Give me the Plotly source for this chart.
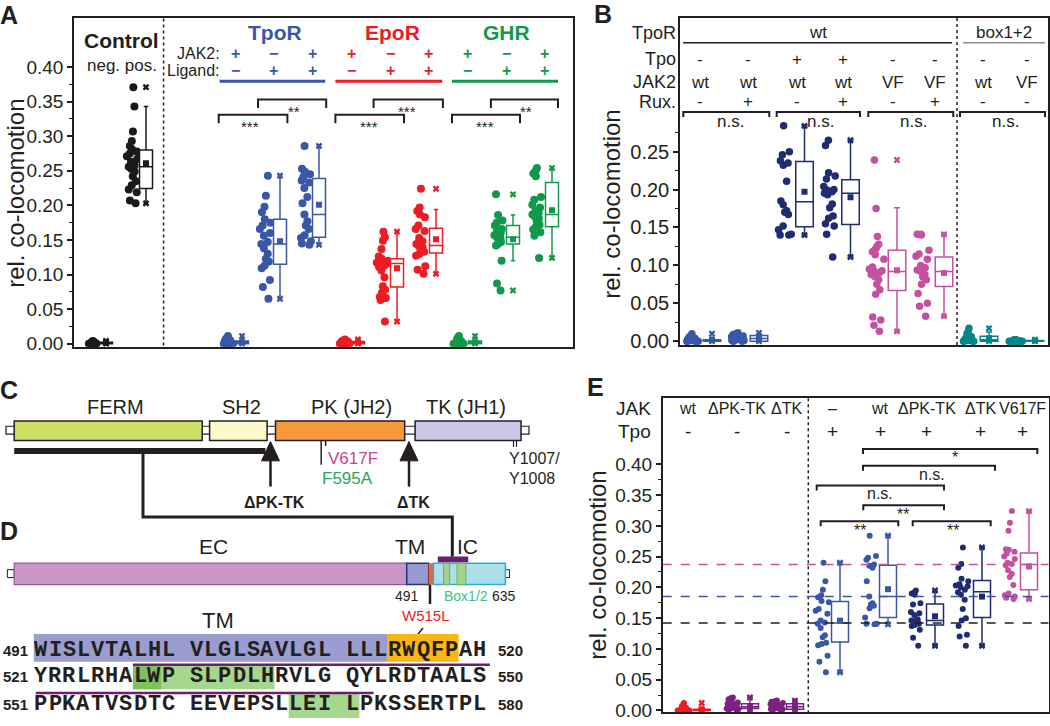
import numpy as np
import plotly.graph_objects as go

W, H = 1050, 726
SANS = "Liberation Sans, Arial, Helvetica, sans-serif"
NARROW = "Liberation Sans Narrow, Liberation Sans, Arial, sans-serif"
MONO = "Liberation Mono, DejaVu Sans Mono, monospace"
INK = "#231f20"

BLUE, NAVY, RED, GREEN = "#3a57a7", "#1f2b73", "#ec1c24", "#10994a"
MAGENTA, TEAL, PURPLE, BLACK = "#c4509f", "#00878a", "#7a2282", "#1a1a1a"

# ---------------- Panel A data ----------------
A_ctrl_neg = [0.000, 0.001, 0.000, 0.002, 0.001, 0.000, 0.003, 0.001, 0.000, 0.002,
              0.001, 0.000, 0.001, 0.002, 0.000, 0.001, 0.004, 0.000, 0.001, 0.002]
A_ctrl_pos = [0.371, 0.343, 0.307, 0.293, 0.286, 0.281, 0.278, 0.275, 0.271, 0.267, 0.263,
              0.258, 0.256, 0.253, 0.249, 0.242, 0.235, 0.229, 0.223, 0.219, 0.207, 0.203]
A_tpor_j = [0.000, 0.001, 0.002, 0.000, 0.003, 0.001, 0.004, 0.000, 0.002, 0.005,
            0.001, 0.003, 0.006, 0.002, 0.008, 0.011, 0.004, 0.001, 0.000, 0.007]
A_tpor_l = [0.243, 0.214, 0.198, 0.190, 0.180, 0.175, 0.171, 0.166, 0.160, 0.156, 0.147,
            0.144, 0.138, 0.130, 0.123, 0.119, 0.113, 0.109, 0.092, 0.082, 0.065]
A_tpor_jl = [0.286, 0.253, 0.249, 0.245, 0.241, 0.236, 0.233, 0.225, 0.212, 0.203,
             0.187, 0.177, 0.171, 0.166, 0.157, 0.153, 0.148, 0.145, 0.143]
A_epor_j = [0.000, 0.001, 0.000, 0.002, 0.003, 0.001, 0.000, 0.004, 0.002, 0.001,
            0.005, 0.000, 0.003, 0.006, 0.001, 0.002, 0.000, 0.004, 0.001, 0.003]
A_epor_l = [0.162, 0.154, 0.149, 0.137, 0.126, 0.123, 0.120, 0.118, 0.117, 0.116, 0.115,
            0.113, 0.111, 0.106, 0.096, 0.083, 0.078, 0.074, 0.068, 0.066, 0.063, 0.032]
A_epor_jl = [0.224, 0.197, 0.192, 0.187, 0.183, 0.171, 0.166, 0.163, 0.153, 0.148,
             0.144, 0.141, 0.139, 0.136, 0.133, 0.130, 0.127, 0.112, 0.107, 0.101]
A_ghr_j = [0.000, 0.001, 0.003, 0.000, 0.002, 0.005, 0.001, 0.000, 0.004, 0.002,
           0.007, 0.001, 0.003, 0.000, 0.009, 0.002, 0.011, 0.001, 0.004, 0.000]
A_ghr_l = [0.216, 0.186, 0.178, 0.175, 0.171, 0.166, 0.163, 0.160, 0.157, 0.154,
           0.152, 0.150, 0.147, 0.144, 0.142, 0.120, 0.087, 0.077]
A_ghr_jl = [0.254, 0.250, 0.246, 0.242, 0.212, 0.208, 0.201, 0.197, 0.192, 0.189,
            0.187, 0.184, 0.181, 0.177, 0.172, 0.169, 0.165, 0.161, 0.156, 0.124]
A_points = [A_ctrl_neg, A_ctrl_pos, A_tpor_j, A_tpor_l, A_tpor_jl, A_epor_j, A_epor_l,
            A_epor_jl, A_ghr_j, A_ghr_l, A_ghr_jl]
A_q1 = [0.000, 0.2245, 0.000, 0.115, 0.154, 0.000, 0.082, 0.131, 0.000, 0.144, 0.169]
A_med = [0.001, 0.256, 0.002, 0.144, 0.187, 0.001, 0.116, 0.142, 0.002, 0.154, 0.187]
A_q3 = [0.002, 0.280, 0.004, 0.180, 0.239, 0.003, 0.123, 0.167, 0.004, 0.171, 0.233]
A_lo = [0.000, 0.203, 0.000, 0.065, 0.143, 0.000, 0.032, 0.101, 0.000, 0.120, 0.124]
A_hi = [0.003, 0.343, 0.007, 0.243, 0.286, 0.005, 0.162, 0.194, 0.008, 0.186, 0.253]
A_mean = [0.001, 0.261, 0.002, 0.148, 0.201, 0.002, 0.109, 0.151, 0.002, 0.151, 0.193]
A_colors = [BLACK, BLACK, BLUE, BLUE, BLUE, RED, RED, RED, GREEN, GREEN, GREEN]
A_receptors = ["TpoR", "EpoR", "GHR"]
A_rec_colors = [BLUE, RED, GREEN]
A_jak2_signs = ["+", "\u2212", "+"]
A_lig_signs = ["\u2212", "+", "+"]
A_sig = ["**", "***", "***", "***", "**", "***"]

# ---------------- Panel B data ----------------
B_wt = [0.000, 0.001, 0.002, 0.000, 0.003, 0.001, 0.005, 0.002, 0.000, 0.004,
        0.001, 0.007, 0.002, 0.010, 0.003, 0.000, 0.001, 0.006, 0.002, 0.004]
B_wt_rux = [0.000, 0.002, 0.004, 0.001, 0.006, 0.003, 0.008, 0.005, 0.010, 0.002,
            0.007, 0.004, 0.000, 0.009, 0.003, 0.006, 0.001, 0.005, 0.011, 0.004]
B_tpo = [0.284, 0.250, 0.246, 0.238, 0.235, 0.232, 0.211, 0.185, 0.180, 0.172,
         0.170, 0.167, 0.152, 0.147, 0.141, 0.140, 0.140]
B_tpo_rux = [0.265, 0.258, 0.222, 0.218, 0.214, 0.204, 0.200, 0.199, 0.197, 0.195,
             0.193, 0.181, 0.176, 0.165, 0.162, 0.155, 0.152, 0.141, 0.111]
B_vf = [0.239, 0.175, 0.138, 0.128, 0.125, 0.122, 0.118, 0.114, 0.108, 0.098, 0.095, 0.093,
        0.092, 0.090, 0.088, 0.085, 0.081, 0.075, 0.068, 0.062, 0.032, 0.028, 0.021, 0.013]
B_vf_rux = [0.141, 0.141, 0.140, 0.120, 0.115, 0.112, 0.108, 0.100, 0.097, 0.094,
            0.092, 0.088, 0.085, 0.081, 0.075, 0.063, 0.050, 0.046, 0.033]
B_box_wt = [0.017, 0.012, 0.010, 0.008, 0.006, 0.005, 0.004, 0.003, 0.003, 0.002,
            0.002, 0.001, 0.001, 0.000, 0.000, 0.000, 0.001, 0.002, 0.004, 0.000]
B_box_vf = [0.000, 0.001, 0.000, 0.002, 0.000, 0.001, 0.000, 0.000, 0.001, 0.002,
            0.000, 0.001, 0.000, 0.000, 0.001, 0.000, 0.002, 0.001, 0.000, 0.000]
B_points = [B_wt, B_wt_rux, B_tpo, B_tpo_rux, B_vf, B_vf_rux, B_box_wt, B_box_vf]
B_q1 = [0.000, 0.000, 0.151, 0.154, 0.067, 0.072, 0.000, 0.000]
B_med = [0.001, 0.0035, 0.184, 0.195, 0.092, 0.092, 0.002, 0.0005]
B_q3 = [0.002, 0.0074, 0.237, 0.213, 0.120, 0.111, 0.0065, 0.001]
B_lo = [0.000, 0.000, 0.140, 0.111, 0.013, 0.033, 0.000, 0.000]
B_hi = [0.005, 0.010, 0.284, 0.265, 0.176, 0.141, 0.012, 0.002]
B_mean = [0.002, 0.004, 0.197, 0.190, 0.0935, 0.090, 0.004, 0.001]
B_colors = [BLUE, BLUE, NAVY, NAVY, MAGENTA, MAGENTA, TEAL, TEAL]
B_row_tpo = ["-", "-", "+", "+", "-", "-", "-", "-"]
B_row_jak2 = ["wt", "wt", "wt", "wt", "VF", "VF", "wt", "VF"]
B_row_rux = ["-", "+", "-", "+", "-", "+", "-", "-"]

# ---------------- Panel E data ----------------
E_wt_np = [0.000, 0.001, 0.003, 0.000, 0.002, 0.005, 0.001, 0.000, 0.004, 0.002,
           0.007, 0.001, 0.003, 0.000, 0.010, 0.002, 0.012, 0.001, 0.004, 0.000]
E_dpktk_np = [0.021, 0.020, 0.018, 0.015, 0.013, 0.011, 0.010, 0.009, 0.008, 0.007,
              0.006, 0.006, 0.005, 0.004, 0.003, 0.003, 0.002, 0.001, 0.000, 0.012]
E_dtk_np = [0.016, 0.015, 0.013, 0.012, 0.011, 0.010, 0.009, 0.008, 0.007, 0.006,
            0.005, 0.005, 0.004, 0.003, 0.002, 0.002, 0.001, 0.000, 0.009, 0.014]
E_none_tpo = [0.240, 0.210, 0.196, 0.187, 0.184, 0.178, 0.176, 0.165, 0.162, 0.157, 0.146,
              0.143, 0.141, 0.134, 0.122, 0.119, 0.110, 0.108, 0.106, 0.089, 0.079, 0.062]
E_wt_tpo = [0.284, 0.251, 0.248, 0.245, 0.237, 0.235, 0.232, 0.210, 0.185, 0.174,
            0.172, 0.170, 0.166, 0.151, 0.141, 0.140, 0.141]
E_dpktk_tpo = [0.195, 0.192, 0.190, 0.188, 0.174, 0.172, 0.160, 0.158, 0.155, 0.148,
               0.146, 0.145, 0.143, 0.142, 0.141, 0.139, 0.137, 0.131, 0.118, 0.105]
E_dtk_tpo = [0.265, 0.238, 0.232, 0.214, 0.210, 0.205, 0.203, 0.202, 0.200, 0.196,
             0.192, 0.188, 0.180, 0.165, 0.150, 0.146, 0.137, 0.123, 0.120, 0.105]
E_vf_tpo = [0.324, 0.305, 0.292, 0.262, 0.261, 0.258, 0.255, 0.250, 0.246, 0.240, 0.238,
            0.236, 0.228, 0.222, 0.217, 0.204, 0.190, 0.187, 0.185, 0.183, 0.181]
E_points = [E_wt_np, E_dpktk_np, E_dtk_np, E_none_tpo, E_wt_tpo, E_dpktk_tpo, E_dtk_tpo, E_vf_tpo]
E_q1 = [0.000, 0.003, 0.002, 0.111, 0.151, 0.139, 0.151, 0.196]
E_med = [0.001, 0.006, 0.006, 0.142, 0.185, 0.146, 0.193, 0.237]
E_q3 = [0.002, 0.011, 0.011, 0.177, 0.236, 0.173, 0.211, 0.256]
E_lo = [0.000, 0.000, 0.000, 0.062, 0.141, 0.105, 0.105, 0.181]
E_hi = [0.004, 0.021, 0.016, 0.240, 0.284, 0.194, 0.265, 0.324]
E_mean = [0.002, 0.007, 0.007, 0.146, 0.197, 0.153, 0.185, 0.234]
E_colors = [RED, PURPLE, PURPLE, BLUE, BLUE, NAVY, NAVY, MAGENTA]
E_row_jak = ["wt", "\u0394PK-TK", "\u0394TK", "\u2013", "wt", "\u0394PK-TK", "\u0394TK", "V617F"]
E_row_tpo = ["-", "-", "-", "+", "+", "+", "+", "+"]
E_ref_values = [0.237, 0.185, 0.142]
E_ref_colors = [MAGENTA, BLUE, INK]
E_sig = ["*", "n.s.", "n.s.", "**", "**", "**"]

# ---------------- Panel D sequence ----------------
SEQ_ROWS = ["WISLVTALHL VLGLSAVLGL LLLRWQFPAH",
            "YRRLRHALWP SLPDLHRVLG QYLRDTAALS",
            "PPKATVSDTC EEVEPSLLEI LPKSSERTPL"]
SEQ_START = [491, 521, 551]
SEQ_END = [520, 550, 580]

# ---------------- layout constants (pixel units) ----------------
A_pts_x = [93, 133, 228, 266, 306, 345, 383, 421, 459, 499, 537]
A_box_x = [106, 146, 242, 280, 319, 358, 397, 436, 475, 513, 552]
B_pts_x = [692, 738, 785, 830, 877, 923, 969, 1016]
B_box_x = [712, 759, 804.5, 850.5, 897, 944, 989, 1035]
B_hdr_x = [700, 748.3, 796.7, 843.3, 893.3, 935, 983.3, 1026.7]
E_pts_x = [684, 733, 777, 823, 871, 916, 963, 1010]
E_box_x = [701.7, 750, 795, 840, 888, 935, 982, 1029]
E_hdr_x = [688.3, 736.7, 786.7, 832.3, 880, 926.7, 980, 1022.5]

shapes, annotations = [], []


def X(x):
    return x / W


def Y(y):
    return 1 - y / H


def add_line(x0, y0, x1, y1, color=INK, width=2, dash="solid"):
    shapes.append(dict(type="line", xref="paper", yref="paper", x0=X(x0), y0=Y(y0),
                       x1=X(x1), y1=Y(y1), line=dict(color=color, width=width, dash=dash)))


def add_rect(x0, y0, x1, y1, fill, lc=INK, lw=1.5):
    shapes.append(dict(type="rect", xref="paper", yref="paper", x0=X(x0), y0=Y(y0),
                       x1=X(x1), y1=Y(y1), fillcolor=fill,
                       line=dict(color=lc, width=lw)))


def add_path(pts, fill="rgba(0,0,0,0)", color=INK, width=2, closed=False):
    d = "M " + " L ".join("%.5f,%.5f" % (X(a), Y(b)) for a, b in pts) + (" Z" if closed else "")
    shapes.append(dict(type="path", xref="paper", yref="paper", path=d, fillcolor=fill,
                       line=dict(color=color, width=width)))


def add_text(x, y, s, size=17, color=INK, bold=False, anchor="center", family=SANS, angle=0):
    annotations.append(dict(xref="paper", yref="paper", x=X(x), y=Y(y),
                            text=("<b>%s</b>" % s) if bold else s, showarrow=False,
                            xanchor=anchor, yanchor="middle", textangle=angle, borderpad=0,
                            font=dict(family=family, size=size, color=color)))


def bracket(x0, x1, y, leg, label, lx, ly, lsize=16):
    add_path([(x0, y + leg), (x0, y), (x1, y), (x1, y + leg)], width=2)
    add_text(lx, ly, label, size=lsize)


fig = go.Figure()


def add_groups(xa, ya, pts_list, pts_x, box_x, q1, med, q3, lo, hi, mean, colors,
               msize, pw, bw):
    for i, pts in enumerate(pts_list):
        c = colors[i]
        fig.add_trace(go.Box(y=pts, x0=pts_x[i], orientation="v", xaxis=xa, yaxis=ya,
                             boxpoints="all", jitter=1, pointpos=0, width=pw,
                             fillcolor="rgba(0,0,0,0)", line=dict(width=0, color="rgba(0,0,0,0)"),
                             marker=dict(color=c, size=msize, line=dict(width=0)),
                             hoverinfo="skip", showlegend=False))
    for i, pts in enumerate(pts_list):
        c = colors[i]
        fig.add_trace(go.Box(x=[box_x[i]], q1=[q1[i]], median=[med[i]], q3=[q3[i]],
                             lowerfence=[lo[i]], upperfence=[hi[i]], orientation="v",
                             xaxis=xa, yaxis=ya, width=bw, fillcolor="white",
                             line=dict(color=c, width=1.5), whiskerwidth=0.35,
                             boxpoints=False, hoverinfo="skip", showlegend=False))
        fig.add_trace(go.Scatter(x=[box_x[i]], y=[mean[i]], mode="markers", xaxis=xa, yaxis=ya,
                                 marker=dict(symbol="square", size=6, color=c),
                                 hoverinfo="skip", showlegend=False))
        arr = np.array(pts)
        fig.add_trace(go.Scatter(x=[box_x[i], box_x[i]], y=[arr.min(), arr.max()],
                                 mode="markers", xaxis=xa, yaxis=ya,
                                 marker=dict(symbol="x", size=6, color=c),
                                 hoverinfo="skip", showlegend=False))


add_groups("x", "y", A_points, A_pts_x, A_box_x, A_q1, A_med, A_q3, A_lo, A_hi, A_mean,
           A_colors, 8, 13, 13)
add_groups("x2", "y2", B_points, B_pts_x, B_box_x, B_q1, B_med, B_q3, B_lo, B_hi, B_mean,
           B_colors, 7.5, 16, 17.5)
add_groups("x3", "y3", E_points, E_pts_x, E_box_x, E_q1, E_med, E_q3, E_lo, E_hi, E_mean,
           E_colors, 6, 15, 17)


def yax(top, bottom, rng, major, minor, fsize, anchor):
    return dict(domain=[Y(bottom), Y(top)], range=rng, anchor=anchor, tickmode="array",
                tickvals=major, ticktext=["%.2f" % v for v in major], ticks="outside",
                ticklen=5, tickwidth=1.5, tickcolor=INK, showline=True, mirror=True,
                linecolor=INK, linewidth=1.5, showgrid=False, zeroline=False,
                tickfont=dict(family=SANS, size=fsize, color=INK), fixedrange=True,
                minor=dict(tickmode="array", tickvals=minor, ticks="outside", ticklen=3,
                           tickwidth=1.2, tickcolor=INK, showgrid=False))


def xax(left, right, anchor):
    return dict(domain=[X(left), X(right)], range=[left, right], anchor=anchor,
                showticklabels=False, ticks="", showline=True, mirror=True, linecolor=INK,
                linewidth=1.5, showgrid=False, zeroline=False, fixedrange=True)


A_major = [round(0.05 * k, 2) for k in range(9)]
A_minor = [round(0.025 + 0.05 * k, 3) for k in range(8)]
B_major = [round(0.05 * k, 2) for k in range(6)]
B_minor = [round(0.025 + 0.05 * k, 3) for k in range(6)]
E_major = A_major
E_minor = A_minor

# ---------- Panel A annotations ----------
add_text(9, 15, "A", size=25, bold=True, family=NARROW)
add_text(16, 196, "rel. co-locomotion", size=24, angle=-90)
add_line(163.6, 18.6, 163.6, 350.5, color=INK, width=1.5, dash="dot")
add_text(121.5, 41, "Control", size=21, bold=True)
add_text(121.5, 66, "neg. pos.", size=17)
add_text(221.4, 54, "JAK2:", size=16, anchor="right")
add_text(221.4, 71, "Ligand:", size=16, anchor="right")
A_title_x = [274.5, 392, 506]
A_under = [(219.7, 325.2), (335.4, 442.2), (452, 558)]
for r in range(3):
    col = A_rec_colors[r]
    add_text(A_title_x[r], 32.5, A_receptors[r], size=21, bold=True, color=col)
    for k in range(3):
        g = 2 + 3 * r + k
        cx_ = (A_pts_x[g] + A_box_x[g]) / 2
        add_text(cx_, 54, A_jak2_signs[k], size=16, bold=True, color=col)
        add_text(cx_, 71.5, A_lig_signs[k], size=16, bold=True, color=col)
    add_line(A_under[r][0], 82.2, A_under[r][1], 82.2, color=col, width=3)
A_br = [(258, 326.2, 100.7, 294), (218.7, 287.4, 116, 250), (373.6, 442.9, 100.7, 407.4),
        (335.4, 404, 116, 368.5), (490.9, 558, 100.7, 526), (452, 520, 116, 485)]
for (x0, x1, yb, lx), s in zip(A_br, A_sig):
    bracket(x0, x1, yb, 8.5, s, lx, yb + 12, lsize=15)

# ---------- Panel B annotations ----------
add_text(602.5, 14, "B", size=25, bold=True, family=NARROW)
add_text(612, 207, "rel. co-locomotion", size=24, angle=-90)
add_line(957, 18.3, 957, 349, color=INK, width=1.5, dash="dot")
add_text(677, 33.3, "TpoR", size=18, anchor="right")
add_text(677, 60, "Tpo", size=18, anchor="right")
add_text(677, 83.3, "JAK2", size=18, anchor="right")
add_text(677, 102.7, "Rux.", size=18, anchor="right")
add_text(817.5, 33.3, "wt", size=17)
add_line(683, 43.3, 952, 43.3, width=1.5)
add_text(1004, 33.3, "box1+2", size=17)
add_line(963, 43.3, 1045, 43.3, color="#555555", width=1)
for i in range(8):
    add_text(B_hdr_x[i], 60, B_row_tpo[i], size=17)
    add_text(B_hdr_x[i], 83.3, B_row_jak2[i], size=17)
    add_text(B_hdr_x[i], 102.7, B_row_rux[i], size=17)
for x0, x1, lx in [(683.3, 769.3, 730), (776.7, 860, 820), (868.3, 953.3, 913.3), (960, 1045, 1005)]:
    bracket(x0, x1, 113.3, 5, "n.s.", lx, 122.5, lsize=17)

# ---------- Panel E annotations ----------
add_text(595, 391, "E", size=25, bold=True, family=NARROW)
add_text(598, 572, "rel. co-locomotion", size=24, angle=-90)
add_line(808.3, 402.7, 808.3, 720, color=INK, width=1.5, dash="dot")
add_text(652, 413.3, "JAK", size=19, anchor="right")
add_text(652, 436.7, "Tpo", size=19, anchor="right")
for i in range(8):
    add_text(E_hdr_x[i], 413.3, E_row_jak[i], size=16)
    add_text(E_hdr_x[i], 436.7, E_row_tpo[i], size=19)
E_br = [(863, 1037.3, 454, 955, 463), (863, 995, 471, 932, 480), (816.7, 944, 491, 880, 499.5),
        (863.3, 944, 511, 903, 520), (820.7, 898.3, 527, 860, 536), (912.7, 990.7, 527, 952.7, 536)]
for (x0, x1, yb, lx, ly), s in zip(E_br, E_sig):
    bracket(x0, x1, yb, 5, s, lx, ly, lsize=16)
for v, c in zip(E_ref_values, E_ref_colors):
    shapes.append(dict(type="line", xref="x3 domain", yref="y3", x0=0, x1=1, y0=v, y1=v,
                       line=dict(color=c, width=1.5, dash="dash"), layer="above"))

# ---------- Panel C: JAK2 domain diagram ----------
add_text(9, 394, "C", size=25, bold=True, family=NARROW)
add_rect(6, 431, 529, 439, "white", INK, 1.2)
add_rect(14.2, 425.7, 202.2, 445.3, "#d0df65")
add_rect(209.6, 425.7, 267.1, 445.3, "#fdf9cd")
add_rect(275.5, 425.7, 404.7, 445.3, "#f7993b")
add_rect(415.1, 425.7, 521, 445.3, "#cbc9e7")
add_text(115, 412, "FERM", size=20)
add_text(241, 412, "SH2", size=20)
add_text(351.6, 412, "PK (JH2)", size=20)
add_text(466, 412, "TK (JH1)", size=20)
add_rect(14.2, 453, 265.4, 459, INK, INK, 0)
for ax_, lbl in [(270.5, "\u0394PK-TK"), (409, "\u0394TK")]:
    add_path([(ax_, 446.5), (ax_ - 9, 466), (ax_ + 9, 466)], fill=INK, width=1, closed=True)
    add_line(ax_, 465, ax_, 492, width=2.5)
    add_text(ax_ + 4, 508.5, lbl, size=16, bold=True)
add_line(325.6, 445.3, 325.6, 451, width=1.5)
add_line(321.2, 445.3, 321.2, 470, width=1.5)
add_text(327.3, 463.6, "V617F", size=17, color="#c2469d", anchor="left")
add_text(321.2, 484, "F595A", size=17, color="#2ba360", anchor="left")
add_line(513.5, 445.3, 513.5, 452, width=1.2)
add_line(516.5, 445.3, 516.5, 452, width=1.2)
add_text(508, 463.6, "Y1007/", size=16, anchor="left")
add_text(508, 484, "Y1008", size=16, anchor="left")
add_path([(143, 456), (143, 522.7), (452.3, 522.7), (452.3, 563)], width=3)

# ---------- Panel D: TpoR diagram + sequence ----------
add_text(9, 537, "D", size=25, bold=True, family=NARROW)
add_rect(7.4, 576, 14.2, 584, "white", INK, 1)
add_rect(505.4, 576, 509.5, 584, "white", INK, 1)
add_rect(14.2, 569.5, 406.7, 591.1, "#c996c6", "#8e5a90", 1.2)
add_rect(406.7, 569.5, 428.7, 591.1, "#9799cf", "#2b2e83", 1.5)
add_rect(428.7, 569.5, 433.4, 591.1, "#f26522", "#f26522", 0)
add_rect(433.4, 569.5, 505.4, 591.1, "#abdfea", "#29abe2", 1.5)
add_rect(443.5, 569.5, 449.6, 591.1, "#a8d08d", "#5cb85c", 1)
add_rect(457, 569.5, 465.9, 591.1, "#a8d08d", "#5cb85c", 1)
add_rect(437.8, 562.7, 468.2, 568.5, "#6b1e6b", "#6b1e6b", 0)
add_text(213, 553, "EC", size=21)
add_text(410, 553, "TM", size=21)
add_text(467, 553, "IC", size=21)
add_line(430, 591, 430, 610.7, width=2.5)
add_text(407.4, 602.3, "491", size=14)
add_text(465.7, 602.3, "Box1/2", size=14, color="#40bf8d")
add_text(504, 602.3, "635", size=14)
add_text(426, 622.5, "W515L", size=15, color=RED)
add_line(423, 635, 415, 645, width=1.5)
add_text(218, 627.6, "TM", size=22)

CH0, CHW = 33.8, 14.16
ROW_Y = [658, 684.4, 712]


def cx(i):
    return CH0 + i * CHW


add_rect(cx(0), 641, cx(25), 669, "#9b9dd1", "#9b9dd1", 0)
add_rect(cx(25), 641, cx(30), 669, "#fcb614", "#fcb614", 0)
add_rect(cx(7), 673, cx(17), 697, "#a6d78f", "#a6d78f", 0)
add_rect(cx(7), 673, cx(9), 697, "#7dc35b", "#7dc35b", 0)
add_rect(cx(18), 701.5, cx(23), 726, "#a6d78f", "#a6d78f", 0)
add_line(cx(7), 672.2, cx(32) + 3, 672.2, color="#6b1e6b", width=2.5)
add_line(cx(0) + 2, 700.6, cx(24), 700.6, color="#6b1e6b", width=2.5)
for r, row in enumerate(SEQ_ROWS):
    add_text(15.2, ROW_Y[r], str(SEQ_START[r]), size=15, bold=True)
    add_text(510.5, ROW_Y[r], str(SEQ_END[r]), size=15, bold=True)
    for i, ch in enumerate(row):
        if ch == " ":
            continue
        add_text(cx(i) + CHW / 2, ROW_Y[r], ch, size=22, bold=True, family=MONO)

fig.update_layout(
    width=W, height=H, margin=dict(l=0, r=0, t=0, b=0),
    paper_bgcolor="white", plot_bgcolor="white", boxmode="overlay",
    showlegend=False, hovermode=False, font=dict(family=SANS, color=INK),
    xaxis=xax(74, 572.5, "y"),
    yaxis=yax(18.6, 350.5, [-0.0043, 0.4705], A_major, A_minor, 19, "x"),
    xaxis2=xax(680, 1048.3, "y2"),
    yaxis2=yax(18.3, 349, [-0.0052, 0.4261], B_major, B_minor, 20, "x2"),
    xaxis3=xax(662.7, 1048.5, "y3"),
    yaxis3=yax(402.7, 720, [-0.0027, 0.5074], E_major, E_minor, 19, "x3"),
    shapes=shapes, annotations=annotations,
)
fig.write_html("out.html", config={"displayModeBar": False},
               post_script="document.body.style.margin='0px';"
                           "document.documentElement.style.overflow='hidden';")
